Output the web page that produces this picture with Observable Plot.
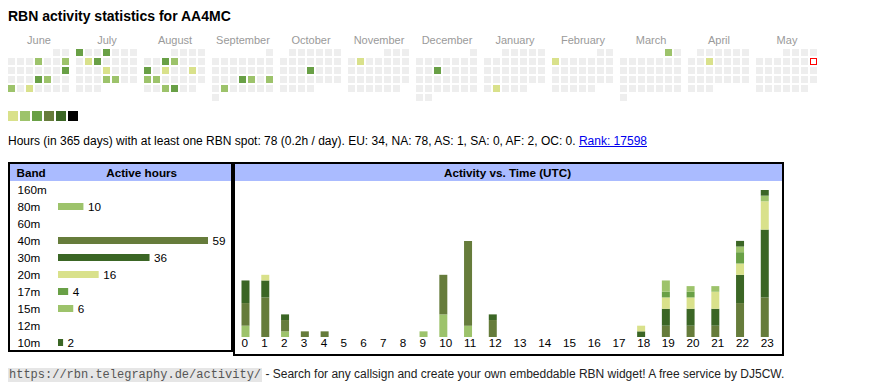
<!DOCTYPE html>
<html><head><meta charset="utf-8">
<script src="https://cdn.jsdelivr.net/npm/d3@7"></script>
<script src="https://cdn.jsdelivr.net/npm/@observablehq/plot@0.6"></script>
<style>
body{margin:0;background:#fff;font-family:"Liberation Sans",Arial,Helvetica,sans-serif;color:#000}
#page{position:relative;width:870px;height:390px;overflow:hidden}
.a{position:absolute;white-space:nowrap}
#title{left:8px;top:8px;font-size:14px;line-height:16px;font-weight:bold}
#summary{left:8px;top:134px;font-size:12px;line-height:14px}
#summary a{color:#0000ee;text-decoration:underline}
.box{position:absolute;box-sizing:border-box;border:2px solid #000}
.hdr{position:absolute;background:#aabbff}
.ht{position:absolute;font-size:11.7px;line-height:14px;font-weight:bold}
#footer{left:8px;top:367px;font-size:12px;line-height:14px;color:#222}
#footer code{font-family:"Liberation Mono","DejaVu Sans Mono",monospace;font-size:12px;background:#e6e6e6;color:#555;padding:0 1px}
svg{overflow:visible}
</style>
</head><body>
<div id="page">
  <div id="title" class="a">RBN activity statistics for AA4MC</div>
  <div id="cal" class="a" style="left:0;top:0"></div>
  <div id="legend" class="a" style="left:0;top:111px"></div>
  <div id="summary" class="a">Hours (in 365 days) with at least one RBN spot: 78 (0.2h / day). EU: 34, NA: 78, AS: 1, SA: 0, AF: 2, OC: 0. <a href="#">Rank: 17598</a></div>

  <div class="box" style="left:8px;top:162px;width:225px;height:190px"></div>
  <div class="hdr" style="left:10px;top:164px;width:221px;height:17px"></div>
  <div class="ht" style="left:16.5px;top:166px">Band</div>
  <div class="ht" style="left:91.7px;top:166px;width:100px;text-align:center">Active hours</div>
  <div id="bands" class="a" style="left:10px;top:181px"></div>

  <div class="box" style="left:233px;top:162px;width:551px;height:194px"></div>
  <div class="hdr" style="left:235px;top:164px;width:547px;height:17px"></div>
  <div class="ht" style="left:235px;top:166px;width:545px;text-align:center">Activity vs. Time (UTC)</div>
  <div id="activity" class="a" style="left:235px;top:181px"></div>

  <div id="footer" class="a"><code>https://rbn.telegraphy.de/activity/</code> - Search for any callsign and create your own embeddable RBN widget! A free service by DJ5CW.</div>
</div>
<script>
// ---------- data ----------
const months = ["June","July","August","September","October","November","December","January","February","March","April","May"];
const periodStart = "2024-06-01";
const periodEnd = "2025-05-31";
const today = "2025-05-11";
const activeDays = ["2024-06-06","2024-06-09","2024-06-16","2024-06-20","2024-06-21","2024-06-24","2024-06-26",
  "2024-07-01","2024-07-04","2024-07-09","2024-07-10","2024-07-18","2024-07-25","2024-07-26",
  "2024-08-07","2024-08-08","2024-08-12","2024-08-14","2024-08-17","2024-08-19","2024-08-20","2024-08-28","2024-08-29",
  "2024-09-19","2024-09-20","2024-09-22","2024-09-24",
  "2024-10-17","2024-11-05","2024-12-11","2025-01-28","2025-02-03","2025-03-01","2025-04-09"];
const activeLevels = [2,2,3,3,2,2,1, 3,3,1,3,1,2,2, 3,2,3,1,1,2,2,2,3, 3,2,2,2, 3,1,3,1,1,2,1];
const legendLevels = [1,2,3,4,5,6];

const bands = ["160m","80m","60m","40m","30m","20m","17m","15m","12m","10m"];
const bandHours = [0,10,0,59,36,16,4,6,0,2];

const hours = d3.range(24);
const h80 = [2,0,1,0,0,0,0,0,0,1,4,2,0,0,0,0,0,0,0,0,0,0,0,0];
const h40 = [4,7,2,1,1,0,0,0,0,0,7,15,3,0,0,0,0,0,0,2,2,2,6,7];
const h30 = [4,3,1,0,0,0,0,0,0,0,0,0,1,0,0,0,0,0,1,3,3,3,5,12];
const h20 = [0,1,0,0,0,0,0,0,0,0,0,0,0,0,0,0,0,0,1,2,2,3,2,5];
const h17 = [0,0,0,0,0,0,0,0,0,0,0,0,0,0,0,0,0,0,0,1,1,0,2,0];
const h15 = [0,0,0,0,0,0,0,0,0,0,0,0,0,0,0,0,0,0,0,2,1,1,1,1];
const h10 = [0,0,0,0,0,0,0,0,0,0,0,0,0,0,0,0,0,0,0,0,0,0,1,1];

// ---------- styles ----------
const levelColors = ["#eeeeee","#d9e18b","#9dc36b","#69a046","#667c3b","#3b6625","#000000"];
const bandColors = ["#000000","#9dc36b","#9dc36b","#667c3b","#3b6625","#d9e18b","#69a046","#9dc36b","#69a046","#3b6625"];
const font = "font-family:'Liberation Sans',Arial,sans-serif;background:transparent;overflow:visible;color:#000";

// ---------- calendar ----------
const parse = d3.utcParse("%Y-%m-%d"), fmt = d3.utcFormat("%Y-%m-%d"), monthName = d3.utcFormat("%B");
const levelByDate = new Map(activeDays.map((d, i) => [d, activeLevels[i]]));
const days = d3.utcDays(parse(periodStart), d3.utcDay.offset(parse(periodEnd), 1)).map(date => {
  const first = d3.utcMonth.floor(date);
  const firstDow = (first.getUTCDay() + 6) % 7;
  const key = fmt(date);
  return {
    key,
    month: monthName(date),
    dow: (date.getUTCDay() + 6) % 7,
    row: Math.floor((date.getUTCDate() - 1 + firstDow) / 7),
    level: levelByDate.get(key) ?? 0
  };
});

document.getElementById("cal").append(Plot.plot({
  width: 817, height: 102, marginLeft: 8, marginRight: 0, marginTop: 49, marginBottom: 1,
  style: font,
  fx: {domain: months, paddingInner: 7/68, paddingOuter: 0, axis: null, round: false},
  x: {domain: d3.range(7), paddingInner: 2/9, paddingOuter: 0, axis: null, round: false},
  y: {domain: d3.range(6), paddingInner: 2/9, paddingOuter: 0, axis: null, round: false},
  color: {type: "ordinal", domain: d3.range(7), range: levelColors},
  marks: [
    Plot.cell(days, {fx: "month", x: "dow", y: "row", fill: "level"}),
    Plot.cell(days.filter(d => d.key === today), {fx: "month", x: "dow", y: "row", fill: "white", stroke: "red", strokeWidth: 1, inset: 0.5}),
    Plot.text(months, {fx: d => d, text: d => d, frameAnchor: "top", dy: -13, fill: "#9a9a9a", fontSize: 11})
  ]
}));

// ---------- legend ----------
document.getElementById("legend").append(Plot.plot({
  width: 80, height: 10, margin: 0, style: font,
  x: {domain: legendLevels, range: [8, 78], paddingInner: 1/6, paddingOuter: 0, axis: null, round: false},
  color: {type: "ordinal", domain: d3.range(7), range: levelColors},
  marks: [Plot.cell(legendLevels, {x: d => d, fill: d => d})]
}));

// ---------- band table ----------
const bandRows = bands.map((band, i) => ({band, hours: bandHours[i]}));
const activeBands = bandRows.filter(d => d.hours > 0);
document.getElementById("bands").append(Plot.plot({
  width: 221, height: 168, margin: 0, style: font,
  x: {domain: [0, d3.max(bandHours)], range: [48, 198], axis: null},
  y: {domain: bands, range: [0, 170], paddingInner: 10/17, paddingOuter: 5/17, axis: null, round: false},
  color: {type: "ordinal", domain: bands, range: bandColors},
  marks: [
    Plot.barX(activeBands, {x: "hours", y: "band", fill: "band"}),
    Plot.text(bandRows, {y: "band", text: "band", frameAnchor: "left", dx: 7, textAnchor: "start", fontSize: 11.7, fill: "#000"}),
    Plot.text(activeBands, {x: "hours", y: "band", text: d => String(d.hours), dx: 4, textAnchor: "start", fontSize: 11.7, fill: "#000"})
  ]
}));

// ---------- activity vs time ----------
// table-like columns: a column's width follows the length of its hour label
const colWidth = hours.map(h => String(h).length + 3);
const colStart = d3.cumsum([0, ...colWidth]).slice(0, 24);
const series = [["80m", h80], ["40m", h40], ["30m", h30], ["20m", h20], ["17m", h17], ["15m", h15], ["10m", h10]];
const activity = [];
for (const [band, values] of series) values.forEach((v, h) => { if (v > 0) activity.push({hour: h, x: colStart[h], band, count: v}); });
const totals = hours.map(h => d3.sum(series, ([, v]) => v[h]));

document.getElementById("activity").append(Plot.plot({
  width: 547, height: 171, marginLeft: 0, marginRight: 0, marginTop: 9, marginBottom: 15, style: font,
  x: {domain: [0, d3.sum(colWidth)], range: [2, 546], axis: null},
  y: {domain: [0, d3.max(totals)], axis: null},
  color: {type: "ordinal", domain: bands, range: bandColors},
  marks: [
    Plot.ruleX(activity, Plot.stackY({x: "x", y: "count", z: "band", stroke: "band", strokeWidth: 8, dx: 8})),
    Plot.text(hours, {x: h => colStart[h], text: h => String(h), frameAnchor: "bottom", dx: 4, dy: 9, textAnchor: "start", fontSize: 11.7, fill: "#000"})
  ]
}));
</script>
</body></html>
